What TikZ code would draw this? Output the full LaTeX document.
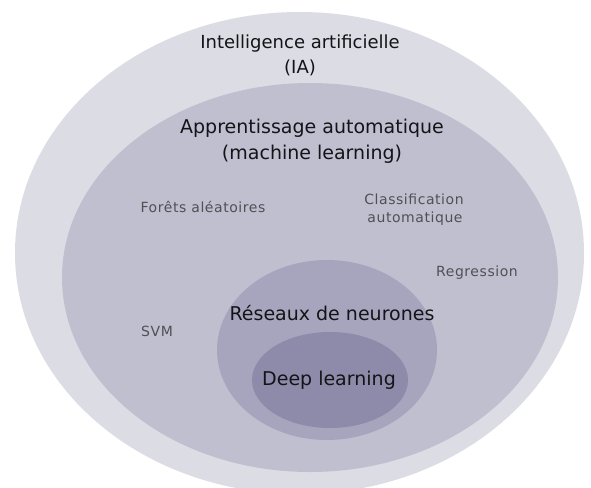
\documentclass[tikz,border=0pt]{standalone}
\usepackage{fontspec}
\setmainfont{DejaVu Sans}
\definecolor{cOuter}{RGB}{220,220,228}
\definecolor{cML}{RGB}{192,191,208}
\definecolor{cNN}{RGB}{166,165,189}
\definecolor{cDL}{RGB}{141,139,169}
\definecolor{cGrey}{RGB}{80,80,84}
\definecolor{cMain}{RGB}{20,20,24}
\begin{document}
\begin{tikzpicture}[x=1pt,y=-1pt,
  zone/.style={draw=none},
  bigtxt/.style={font=\fontsize{19}{25}\selectfont, text=cMain, align=center, inner sep=0pt},
  midtxt/.style={font=\fontsize{18}{25}\selectfont, text=cMain, align=center, inner sep=0pt},
  smalltxt/.style={font=\fontsize{14}{20}\selectfont\addfontfeatures{LetterSpace=4}, text=cGrey, align=center, inner sep=0pt}]
\useasboundingbox (0,0) rectangle (591,487);
\fill[white] (0,0) rectangle (591,487);
\path[zone, fill=cOuter] (299.5,253) ellipse [x radius=284.5, y radius=241];
\path[zone, fill=cML] (310,277.5) ellipse [x radius=248, y radius=194.5];
\path[zone, fill=cNN] (327,350) ellipse [x radius=110, y radius=90];
\path[zone, fill=cDL] (330,380) ellipse [x radius=78, y radius=48];
\node[midtxt] (ia) at (300,44) {Intelligence artificielle};
\node[midtxt] (ia2) at (300,68) {(IA)};
\node[bigtxt] (ml) at (312,128) {Apprentissage automatique};
\node[bigtxt] (ml2) at (312,154) {(machine learning)};
\node[smalltxt] (rf) at (203,207) {Forêts aléatoires};
\node[smalltxt] (cl) at (414,199) {Classification};
\node[smalltxt] (cl2) at (415,219) {automatique};
\node[smalltxt] (rg) at (477,273) {Regression};
\node[smalltxt] (svm) at (157,331) {SVM};
\node[bigtxt] (nn) at (332,313) {Réseaux de neurones};
\node[bigtxt] (dl) at (329,380) {Deep learning};
\end{tikzpicture}
\end{document}
